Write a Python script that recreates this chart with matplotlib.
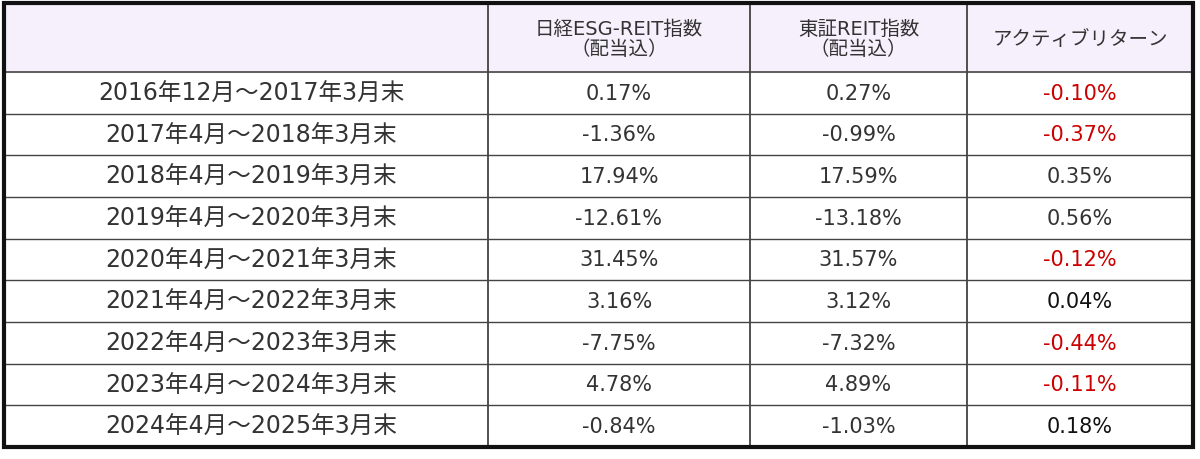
import matplotlib

matplotlib.use("Agg")
import matplotlib.pyplot as plt

plt.rcParams["font.family"] = ["DejaVu Sans", "Noto Sans CJK JP"]

headers = ["", "日経ESG-REIT指数\n（配当込）", "東証REIT指数\n（配当込）", "アクティブリターン"]
periods = ["2016年12月～2017年3月末", "2017年4月～2018年3月末", "2018年4月～2019年3月末",
           "2019年4月～2020年3月末", "2020年4月～2021年3月末", "2021年4月～2022年3月末",
           "2022年4月～2023年3月末", "2023年4月～2024年3月末", "2024年4月～2025年3月末"]
esg = [0.17, -1.36, 17.94, -12.61, 31.45, 3.16, -7.75, 4.78, -0.84]
tse = [0.27, -0.99, 17.59, -13.18, 31.57, 3.12, -7.32, 4.89, -1.03]
active = [-0.10, -0.37, 0.35, 0.56, -0.12, 0.04, -0.44, -0.11, 0.18]

W, H = 1200, 460
fig = plt.figure(figsize=(W / 100, H / 100), dpi=100)
ax = fig.add_axes([0, 0, 1, 1])
ax.set_xlim(0, W)
ax.set_ylim(H, 0)
ax.axis("off")

xs = [4, 488, 750, 967, 1193]
top, head_bot, bot = 4, 73, 448
rh = (bot - head_bot) / len(periods)

ax.add_patch(plt.Rectangle((xs[0], top), xs[-1] - xs[0], head_bot - top, color="#f6effc", zorder=0))

for x in xs[1:-1]:
    ax.plot([x, x], [top, bot], color="#333333", lw=1.2)
for i in range(1, len(periods)):
    y = head_bot + i * rh
    ax.plot([xs[0], xs[-1]], [y, y], color="#444444", lw=1.0)
ax.plot([xs[0], xs[-1]], [head_bot, head_bot], color="#444444", lw=1.2)
ax.add_patch(plt.Rectangle((xs[0], top), xs[-1] - xs[0], bot - top, fill=False,
                           edgecolor="#111111", lw=3, zorder=5))

for j, h in enumerate(headers):
    cx = (xs[j] + xs[j + 1]) / 2
    ax.text(cx, (top + head_bot) / 2 + 1, h, ha="center", va="center", fontsize=14,
            color="#333333", linespacing=1.05)

for i, p in enumerate(periods):
    cy = head_bot + (i + 0.5) * rh
    ax.text((xs[0] + xs[1]) / 2 + 5, cy, p, ha="center", va="center", fontsize=17, color="#333333")
    ax.text((xs[1] + xs[2]) / 2, cy, f"{esg[i]:.2f}%", ha="center", va="center", fontsize=15, color="#333333")
    ax.text((xs[2] + xs[3]) / 2, cy, f"{tse[i]:.2f}%", ha="center", va="center", fontsize=15, color="#333333")
    c = "#cc0000" if active[i] < 0 else ("#111111" if i >= 5 else "#333333")
    ax.text((xs[3] + xs[4]) / 2, cy, f"{active[i]:.2f}%", ha="center", va="center", fontsize=15, color=c)

fig.savefig("out.png", dpi=100, facecolor="white")
